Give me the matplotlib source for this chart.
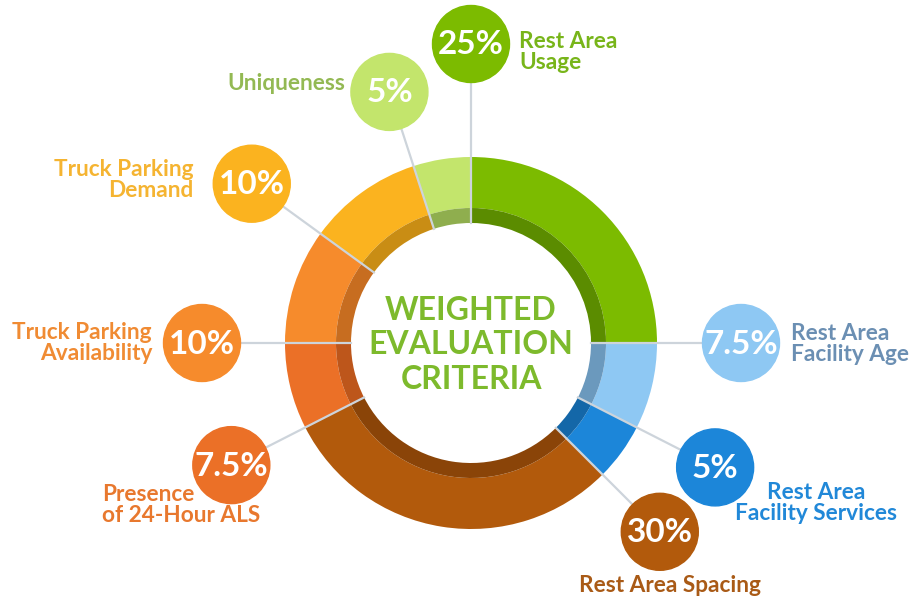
import matplotlib.pyplot as plt
import numpy as np

# Criteria, clockwise from the top.
criteria = ['Rest Area\nUsage', 'Rest Area\nFacility Age', 'Rest Area\nFacility Services',
            'Rest Area Spacing', 'Presence\nof 24-Hour ALS', 'Truck Parking\nAvailability',
            'Truck Parking\nDemand', 'Uniqueness']
weights = [25, 7.5, 5, 30, 7.5, 10, 10, 5]
pct_labels = ['25%', '7.5%', '5%', '30%', '7.5%', '10%', '10%', '5%']

colors = ['#7cbb00', '#8ec8f3', '#1c86d9', '#b25a0c', '#eb7027', '#f68b2c', '#fbb31f', '#c3e56c']
dark_colors = ['#5b8c00', '#6b99bd', '#1467a8', '#8a4408', '#bd561b', '#c76d20', '#c98d14', '#8fae4e']
text_colors = ['#78b51a', '#6b8fb3', '#2188d8', '#a95a16', '#e8782e', '#f08b33', '#f5b431', '#93b953']

# Layout in pixels (y measured from the bottom).
W, H = 924, 599
cx, cy = 471, 599 - 343
r_out, r_mid, r_in = 186, 135, 120
dist = [299, 270, 274, 267, 269, 269, 271, 264]
r_bubble = 38.5

# Label anchors: (x, y_center_pixel, ha)
label_pos = [(519, 52, 'left'), (791, 344, 'left'), (816, 503, 'center'),
             (670, 586, 'center'), (102, 505, 'left'), (152, 343, 'right'),
             (193, 180, 'right'), (345, 84, 'right')]

fig = plt.figure(figsize=(W / 100, H / 100), dpi=100)
ax = fig.add_axes([0, 0, 1, 1])

ax.pie(weights, colors=colors, startangle=90, counterclock=False,
       radius=r_out, center=(cx, cy),
       wedgeprops=dict(width=r_out - r_mid, linewidth=0))
ax.pie(weights, colors=dark_colors, startangle=90, counterclock=False,
       radius=r_mid, center=(cx, cy),
       wedgeprops=dict(width=r_mid - r_in, linewidth=0))

# Connector lines start at each segment's leading edge.
starts = np.concatenate([[0], np.cumsum(weights)[:-1]]) / 100 * 360
for i, a in enumerate(starts):
    th = np.deg2rad(90 - a)
    bx = cx + dist[i] * np.cos(th)
    by = cy + dist[i] * np.sin(th)
    ax.plot([cx + r_in * np.cos(th), bx], [cy + r_in * np.sin(th), by],
            color='#cdd4db', lw=1.6, zorder=3)
    ax.add_patch(plt.Circle((bx, by), r_bubble, color=colors[i], zorder=4))
    ax.text(bx, by - 1, pct_labels[i], color='white', fontsize=24,
            family='Lato', weight='bold', ha='center', va='center', zorder=5)
    lx, ly, ha = label_pos[i]
    ax.text(lx, H - ly, criteria[i], color=text_colors[i], fontsize=16.3,
            family='Lato', weight='bold', ha=ha, va='center',
            multialignment=ha, linespacing=1.0, zorder=5)

ax.text(cx, cy - 2, 'WEIGHTED\nEVALUATION\nCRITERIA', color='#7dba2c',
        fontsize=23, family='Lato', weight='bold', ha='center', va='center',
        linespacing=1.22)

ax.set_xlim(0, W)
ax.set_ylim(0, H)
ax.set_aspect('equal')
ax.axis('off')

fig.savefig('out.png', dpi=100, facecolor='white')
